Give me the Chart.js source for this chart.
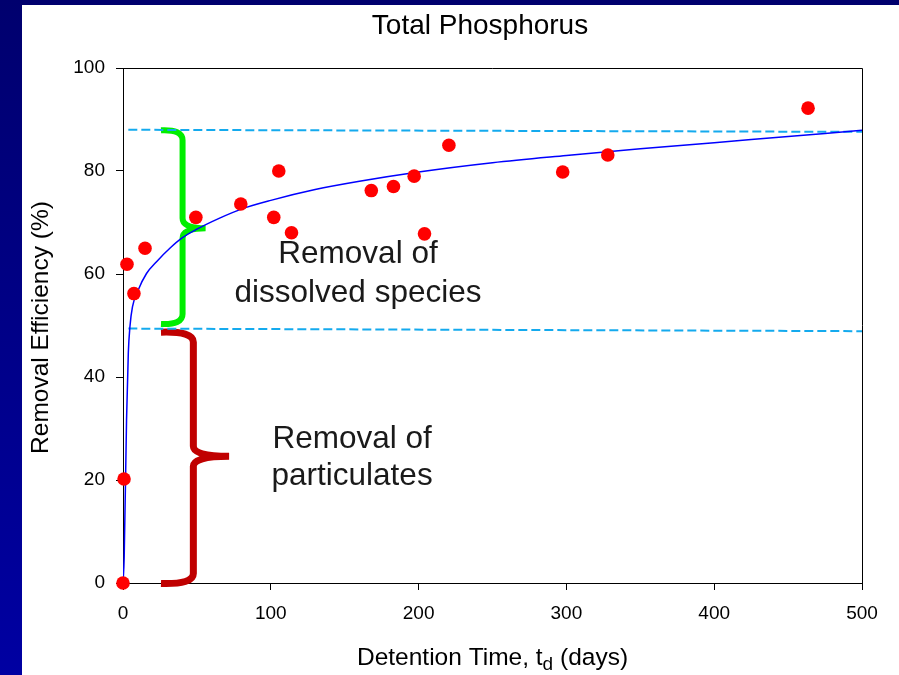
<!DOCTYPE html>
<html>
<head>
<meta charset="utf-8">
<title>Total Phosphorus</title>
<script src="https://cdn.jsdelivr.net/npm/chart.js@4.4.1/dist/chart.umd.min.js"></script>
<style>
  html, body { margin: 0; padding: 0; width: 899px; height: 675px; overflow: hidden; }
  body { background: linear-gradient(to bottom, #00006e 0%, #000088 50%, #0000a2 100%); position: relative; }
  #panel { position: absolute; left: 22px; top: 5px; width: 877px; height: 670px; background: #fff; }
  canvas { display: block; }
</style>
</head>
<body>
<div id="panel"><canvas id="chart" width="877" height="670"></canvas></div>
<script>
// Measured removal efficiencies (detention time in days, removal in %)
const obsDays = [0, 0.7, 2.7, 7.4, 14.9, 49.3, 79.7, 102, 105.4, 114, 168, 183, 197, 204, 220.5, 297.5, 328, 463.5];
const obsRemoval = [0, 20.2, 61.9, 56.2, 65, 71, 73.6, 71, 80, 68, 76.2, 77, 79, 67.8, 85, 79.8, 83.1, 92.2];

// Fitted curve
const fitDays = [0, 0.8, 2.4, 3.6, 4.7, 6.4, 10.3, 15.9, 22.7, 31.7, 40, 50, 65, 80, 100, 130, 160, 200, 250, 300, 350, 400, 450, 500];
const fitRemoval = [0, 5, 31.7, 44.7, 49.8, 53.6, 56.9, 60.1, 62.4, 65.0, 67.0, 68.7, 70.8, 72.6, 74.3, 76.4, 78.0, 79.8, 81.6, 83.0, 84.3, 85.5, 86.7, 87.9];

// Dashed reference levels (particulate and total removal)
const levelDays = [3.6, 500];
const upperLevel = [88.0, 87.6];
const lowerLevel = [49.4, 48.9];

const X_TICKS = [0, 100, 200, 300, 400, 500];
const Y_TICKS = [0, 20, 40, 60, 80, 100];

const FONT = '"Liberation Sans", Arial, Helvetica, sans-serif';

// braces: arm x, spine x, tip x, top, middle, bottom (data units)
const BRACES = [
  { color: '#00ee00', width: 6, arm: 25.7, spine: 40.3, tip: 55.9, top: 87.9, mid: 68.9, bot: 50.3 },
  { color: '#c00000', width: 7, arm: 25.7, spine: 47.6, tip: 71.8, top: 48.7, mid: 24.6, bot: -0.1 },
];
const LABELS = [
  { x: 159, y: 63.8, text: 'Removal of' },
  { x: 159, y: 56.2, text: 'dissolved species' },
  { x: 155, y: 27.9, text: 'Removal of' },
  { x: 155, y: 20.7, text: 'particulates' },
];

function pts(xs, ys) {
  return xs.map((x, i) => ({ x, y: ys[i] }));
}

function drawBrace(ctx, xs, ys, b) {
  const a = xs.getPixelForValue(b.arm), s = xs.getPixelForValue(b.spine), t = xs.getPixelForValue(b.tip);
  const top = ys.getPixelForValue(b.top), mid = ys.getPixelForValue(b.mid), bot = ys.getPixelForValue(b.bot);
  const r = 10;
  ctx.save();
  ctx.strokeStyle = b.color;
  ctx.lineWidth = b.width;
  ctx.lineJoin = 'round';
  ctx.beginPath();
  ctx.moveTo(a, top);
  ctx.quadraticCurveTo(s, top - 1, s, top + r);
  ctx.lineTo(s, mid - r);
  ctx.quadraticCurveTo(s, mid, t, mid);
  ctx.moveTo(t, mid);
  ctx.quadraticCurveTo(s, mid, s, mid + r);
  ctx.lineTo(s, bot - r);
  ctx.quadraticCurveTo(s, bot + 1, a, bot);
  ctx.stroke();
  ctx.restore();
}

const decor = {
  id: 'decor',
  beforeDatasetsDraw(chart) {
    const { ctx, scales: { x, y } } = chart;
    BRACES.forEach((b) => drawBrace(ctx, x, y, b));
    ctx.save();
    ctx.fillStyle = '#1a1a1a';
    ctx.font = '31.5px ' + FONT;
    ctx.textAlign = 'center';
    ctx.textBaseline = 'middle';
    LABELS.forEach((l) => ctx.fillText(l.text, x.getPixelForValue(l.x), y.getPixelForValue(l.y)));
    ctx.restore();
  },
  afterDraw(chart) {
    const { ctx, chartArea: ca } = chart;
    ctx.save();
    // frame
    ctx.strokeStyle = '#000';
    ctx.lineWidth = 1;
    ctx.beginPath();
    ctx.moveTo(ca.left, ca.top + 0.5);
    ctx.lineTo(ca.right + 0.5, ca.top + 0.5);
    ctx.lineTo(ca.right + 0.5, ca.bottom);
    ctx.stroke();

    ctx.fillStyle = '#000';
    // title
    ctx.font = '28px ' + FONT;
    ctx.textAlign = 'center';
    ctx.textBaseline = 'alphabetic';
    ctx.fillText('Total Phosphorus', 458, 29);

    // x axis title with subscript
    const cx = (ca.left + ca.right) / 2;
    const base = 660;
    ctx.font = '24.5px ' + FONT;
    const p1 = 'Detention Time, t', p3 = ' (days)';
    const w1 = ctx.measureText(p1).width, w3 = ctx.measureText(p3).width;
    ctx.font = '19px ' + FONT;
    const w2 = ctx.measureText('d').width;
    const sx = cx - (w1 + w2 + w3) / 2;
    ctx.textAlign = 'left';
    ctx.font = '24.5px ' + FONT;
    ctx.fillText(p1, sx, base);
    ctx.font = '19px ' + FONT;
    ctx.fillText('d', sx + w1, base + 5);
    ctx.font = '24.5px ' + FONT;
    ctx.fillText(p3, sx + w1 + w2, base);

    // y axis title
    ctx.translate(19, (ca.top + ca.bottom) / 2 + 2);
    ctx.rotate(-Math.PI / 2);
    ctx.textAlign = 'center';
    ctx.textBaseline = 'middle';
    ctx.fillText('Removal Efficiency (%)', 0, 0);
    ctx.restore();
  },
};

new Chart(document.getElementById('chart'), {
  type: 'scatter',
  data: {
    datasets: [
      {
        label: 'Measured',
        data: pts(obsDays, obsRemoval),
        backgroundColor: '#ff0000',
        borderWidth: 0,
        pointRadius: 6.8,
        clip: false,
      },
      {
        label: 'Fit',
        data: pts(fitDays, fitRemoval),
        showLine: true,
        borderColor: '#0000ff',
        borderWidth: 1.5,
        pointRadius: 0,
        cubicInterpolationMode: 'monotone',
      },
      {
        label: 'Total',
        data: pts(levelDays, upperLevel),
        showLine: true,
        borderColor: '#14aaee',
        borderWidth: 2,
        borderDash: [9, 4],
        pointRadius: 0,
        clip: false,
      },
      {
        label: 'Particulate',
        data: pts(levelDays, lowerLevel),
        showLine: true,
        borderColor: '#14aaee',
        borderWidth: 2,
        borderDash: [9, 4],
        pointRadius: 0,
        clip: false,
      },
    ],
  },
  options: {
    responsive: false,
    devicePixelRatio: 1,
    animation: false,
    layout: { padding: { top: 63, right: 37, left: 0, bottom: 0 } },
    plugins: { legend: { display: false }, tooltip: { enabled: false }, title: { display: false } },
    scales: {
      x: {
        type: 'linear',
        min: 0, max: 500,
        afterFit: (s) => { s.height = 92; },
        afterBuildTicks: (s) => { s.ticks = X_TICKS.map((v) => ({ value: v })); },
        grid: { drawOnChartArea: false, drawTicks: true, tickLength: 7, color: '#000' },
        border: { display: true, color: '#000', width: 1 },
        ticks: { color: '#000', padding: 12, font: { size: 19, family: FONT } },
      },
      y: {
        type: 'linear',
        min: 0, max: 100,
        afterFit: (s) => { s.width = 101; },
        afterBuildTicks: (s) => { s.ticks = Y_TICKS.map((v) => ({ value: v })); },
        grid: { drawOnChartArea: false, drawTicks: true, tickLength: 7, color: '#000' },
        border: { display: true, color: '#000', width: 1 },
        ticks: { color: '#000', padding: 11, font: { size: 19, family: FONT } },
      },
    },
  },
  plugins: [decor],
});
</script>
</body>
</html>
